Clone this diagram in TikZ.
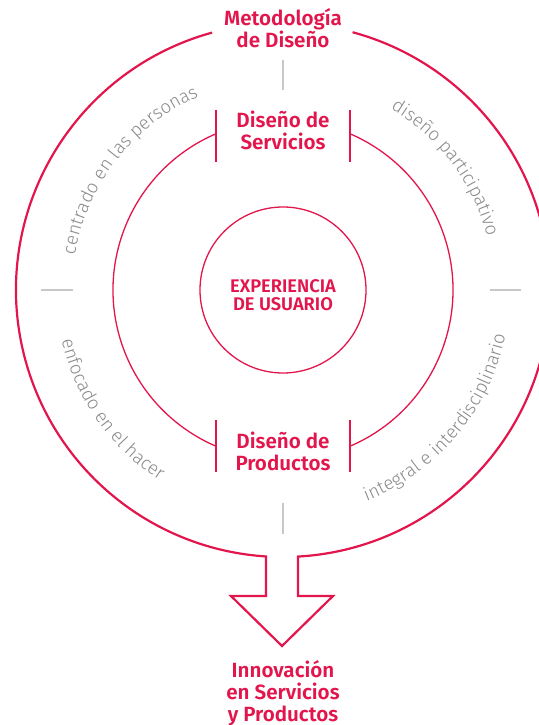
\documentclass[tikz,border=0pt]{standalone}
\usepackage{fontspec}
\setmainfont{Fira Sans}[BoldFont={* SemiBold}]
\newfontfamily\lightfont{Fira Sans}[UprightFont={* Light}]
\usetikzlibrary{decorations.text}
\definecolor{crim}{RGB}{226,22,76}
\definecolor{tgray}{RGB}{138,138,138}
\definecolor{tickgray}{RGB}{200,200,200}
\newcommand{\graytxt}{\fontsize{18.5}{18.5}\lightfont}
\begin{document}
\begin{tikzpicture}[x=1pt,y=1pt,
  redtext/.style={text=crim, font=\bfseries\fontsize{20.6}{22}\selectfont, align=center, anchor=base, inner sep=0pt},
  centertext/.style={text=crim, font=\bfseries\fontsize{18.3}{18}\selectfont, align=center, anchor=base, inner sep=0pt},
  outerline/.style={draw=crim, line width=2.2pt, line join=miter},
  thinline/.style={draw=crim, line width=1.3pt},
  graytick/.style={draw=tickgray, line width=1.5pt},
  arctext/.style={decorate, decoration={text along path, text align=center, text color=tgray}}
]
\useasboundingbox (-283,-435) rectangle (255,290);
% outer circle with arrow
\draw[outerline] (105.4:267) arc[start angle=105.4, end angle=266.35, radius=267]
  -- (-17,-306) -- (-52,-306) -- (-1,-356) -- (50,-306) -- (15,-306)
  -- (273.2:267) arc[start angle=273.2, end angle=434.9, radius=267];
% middle circle arcs and ticks
\draw[thinline] (113.2:170) arc[start angle=113.2, end angle=246.8, radius=170];
\draw[thinline] (-66.8:170) arc[start angle=-66.8, end angle=66.8, radius=170];
\draw[thinline] (-67,180) -- (-67,128);
\draw[thinline] (67,180) -- (67,128);
\draw[thinline] (-67,-130) -- (-67,-182);
\draw[thinline] (67,-130) -- (67,-182);
% inner circle
\draw[thinline] (0,0) circle[radius=83];
% gray ticks
\draw[graytick] (0,230) -- (0,200);
\draw[graytick] (0,-213) -- (0,-244);
\draw[graytick] (-242,0) -- (-210,0);
\draw[graytick] (207,0) -- (238,0);
% labels (anchor = baseline of last line)
\node[redtext] (metodo) at (0,242) {Metodología\\de Diseño};
\node[redtext] (servicios) at (0,140) {Diseño de\\Servicios};
\node[redtext] (productos) at (0,-180) {Diseño de\\Productos};
\node[centertext] (experiencia) at (0,-20) {EXPERIENCIA\\DE USUARIO};
\node[redtext] (innovacion) at (0,-431) {Innovación\\en Servicios\\y Productos};
% arc texts
\path[arctext, decoration={text={|\graytxt|centrado en las personas}}]
  (172:211) arc[start angle=172, end angle=112, radius=211];
\path[arctext, decoration={text={|\graytxt|diseño participativo}}]
  (62:211) arc[start angle=62, end angle=12, radius=211];
\path[arctext, decoration={text={|\graytxt|enfocado en el hacer}}]
  (190:227) arc[start angle=190, end angle=240, radius=227];
\path[arctext, decoration={text={|\graytxt|integral e interdisciplinario}}]
  (288:227) arc[start angle=288, end angle=352, radius=227];
\end{tikzpicture}
\end{document}
